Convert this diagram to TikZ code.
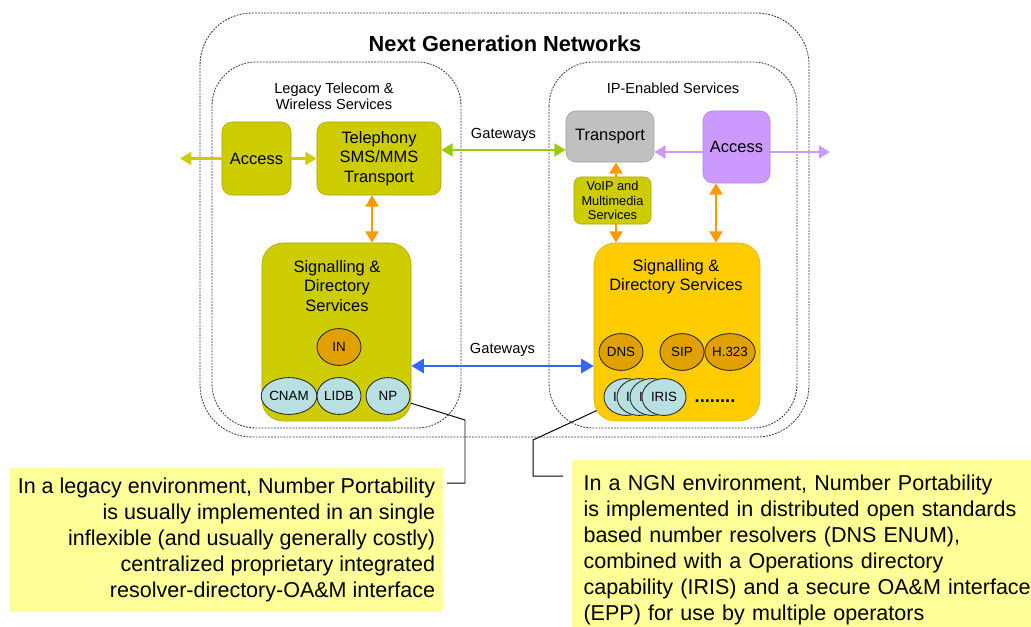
\documentclass[tikz,border=0pt]{standalone}
\usepackage{fontspec}
\setmainfont{Liberation Sans}
\usepackage{xcolor}
\usetikzlibrary{arrows.meta, positioning, shapes.geometric, backgrounds}

\definecolor{legacyfill}{HTML}{CCCC00}
\definecolor{legacyedge}{HTML}{A8A800}
\definecolor{ipgold}{HTML}{FFCC00}
\definecolor{goldedge}{HTML}{E6B400}
\definecolor{transgray}{HTML}{C0C0C0}
\definecolor{transedge}{HTML}{A0A0A0}
\definecolor{viol}{HTML}{CC99FF}
\definecolor{violedge}{HTML}{B07FEA}
\definecolor{ambre}{HTML}{DFA000}
\definecolor{cyanell}{HTML}{B8E0E2}
\definecolor{limegreen}{HTML}{99CC00}
\definecolor{orarrow}{HTML}{FF9900}
\definecolor{bluearrow}{HTML}{3366FF}
\definecolor{notefill}{HTML}{FFFF99}

\begin{document}
\begin{tikzpicture}[
  x=0.025cm, y=-0.025cm,
  >={Triangle[length=8pt,width=9pt]},
  frame/.style={draw=black!80, dash pattern=on 1.3pt off 0.9pt, line width=0.6pt},
  box/.style={draw=legacyedge, fill=legacyfill, rounded corners=7pt, align=center,
              inner sep=0pt, font=\fontsize{11.7}{14}\selectfont},
  sigbox/.style={box, rounded corners=15pt},
  boxtext/.style={align=center, inner sep=0pt, font=\fontsize{11.7}{13.6}\selectfont},
  proto/.style={draw=black!85, ellipse, fill=ambre, minimum width=1.1cm, minimum height=0.92cm,
                inner sep=0pt, line width=0.6pt, font=\fontsize{9.5}{11}\selectfont},
  db/.style={proto, fill=cyanell},
  lbl/.style={align=center, inner sep=0pt, font=\fontsize{10.4}{11.3}\selectfont},
  note/.style={fill=notefill, inner sep=0pt, font=\fontsize{15.3}{18.4}\selectfont},
  limearr/.style={draw=legacyfill, line width=2.1pt},
  gwarr/.style={draw=limegreen, line width=2.1pt},
  violarr/.style={draw=viol, line width=2.1pt},
  orarr/.style={draw=orarrow, line width=2.1pt},
  bluarr/.style={draw=bluearrow, line width=2.1pt, >={Triangle[length=9pt,width=10pt]}},
  callout/.style={draw=black, line width=0.7pt}
]
\useasboundingbox (0,0) rectangle (1031,626);

\draw[frame, rounded corners=1.3cm] (200,13) rectangle (809,437);
\draw[frame, rounded corners=1.1cm] (212,62) rectangle (461,428);
\draw[frame, rounded corners=1.1cm] (549,62) rectangle (797,428);

\node[font=\fontsize{15.5}{18}\selectfont\bfseries] (title) at (505,44) {Next Generation Networks};
\node[lbl] (legacyt) at (334,96) {Legacy Telecom \&\\Wireless Services};
\node[lbl] (ipt) at (673,88) {IP-Enabled Services};

\node[box, minimum width=1.725cm, minimum height=1.825cm] (accL) at (256.5,158.5) {Access};
\node[box, minimum width=3.1cm, minimum height=1.825cm] (tel) at (379,158.5) {Telephony\\SMS/MMS\\Transport};
\node[box, draw=transedge, fill=transgray, minimum width=2.2cm, minimum height=1.275cm] (trans) at (610,136.5) {Transport};
\node[box, draw=violedge, fill=viol, minimum width=1.675cm, minimum height=1.8cm] (accR) at (736.5,147) {Access};
\node[box, rounded corners=5pt, minimum width=1.925cm, minimum height=1.175cm,
      font=\fontsize{9.1}{10.6}\selectfont] (voip) at (612.5,200.5) {VoIP and\\Multimedia\\Services};

\node[sigbox, minimum width=3.725cm, minimum height=4.45cm] (sigL) at (336.5,332) {};
\node[sigbox, draw=goldedge, fill=ipgold, minimum width=4.15cm, minimum height=4.45cm] (sigR) at (677,332) {};
\node[boxtext] (sigLt) at (337,286) {Signalling \&\\Directory\\Services};
\node[boxtext] (sigRt) at (676,276.5) {Signalling \&\\Directory Services};

\node[proto] (in) at (339,347) {IN};
\node[db] (cnam) at (289,396) {CNAM};
\node[db] (lidb) at (339,396) {LIDB};
\node[db] (np) at (388,396) {NP};

\node[proto] (dns) at (621,352) {DNS};
\node[proto] (sip) at (682,352) {SIP};
\node[proto] (h323) at (730,352) {H.323};
\foreach \x [count=\i] in {626,639,652,664}
  \node[db] (iris\i) at (\x,397) {IRIS};
\node[inner sep=0pt, font=\fontsize{13}{13}\selectfont\bfseries] (more) at (715,401) {........};

\coordinate (outL) at (180,158.5);
\coordinate (outR) at (830,152);
\coordinate (gwT) at (503,150);
\coordinate (gwB) at (503,366);
\coordinate (pT) at (690,152);
\coordinate (oL) at (372,220);
\coordinate (oV) at (616,200);
\coordinate (oA) at (716,210);

\draw[->, limearr] (accL) -- (outL);
\draw[->, limearr] (accL) -- (tel);
\draw[<->, gwarr] (tel.east |- gwT) -- (trans.west |- gwT)
  node[lbl, midway, above=5pt] {Gateways};
\draw[->, violarr] (accR.west |- pT) -- (trans.east |- pT);
\draw[->, violarr] (accR.east |- pT) -- (outR);
\draw[<->, orarr] (tel.south -| oL) -- (sigL.north -| oL);
\draw[->, orarr] (voip.north -| oV) -- (trans.south -| oV);
\draw[->, orarr] (voip.south -| oV) -- (sigR.north -| oV);
\draw[<->, orarr] (accR.south -| oA) -- (sigR.north -| oA);
\draw[<->, bluarr] (sigL.east |- gwB) -- (sigR.west |- gwB)
  node[lbl, midway, above=6pt] {Gateways};

\node[note, align=right, minimum width=10.825cm, minimum height=3.6cm] (note1) at (226.5,540)
  {In a legacy environment, Number Portability\\
   is usually implemented in an single\hspace*{0.28em}\\
   inflexible (and usually generally costly)\hspace*{0.28em}\\
   centralized proprietary integrated\\
   resolver-directory-OA\&M interface};
\node[note, align=left, anchor=north west, text width=11.2cm, inner xsep=8pt, inner ysep=10.5pt] (note2) at (572,460)
  {In a NGN environment, Number Portability\\
   is implemented in distributed open standards\\
   based number resolvers (DNS ENUM),\\
   combined with a Operations directory\\
   capability (IRIS) and a secure OA\&M interface\\
   (EPP) for use by multiple operators};

\coordinate (np1) at (465,420);
\coordinate (np2) at (465,483);
\coordinate (np3) at (447,483);
\coordinate (ir1) at (533,440);
\coordinate (ir2) at (533,476);
\coordinate (ir3) at (563,476);
\begin{scope}[on background layer]
  \draw[callout] (np.center) -- (np1) -- (np2) -- (np3);
  \draw[callout] (iris1.center) -- (ir1) -- (ir2) -- (ir3);
\end{scope}
\end{tikzpicture}
\end{document}
